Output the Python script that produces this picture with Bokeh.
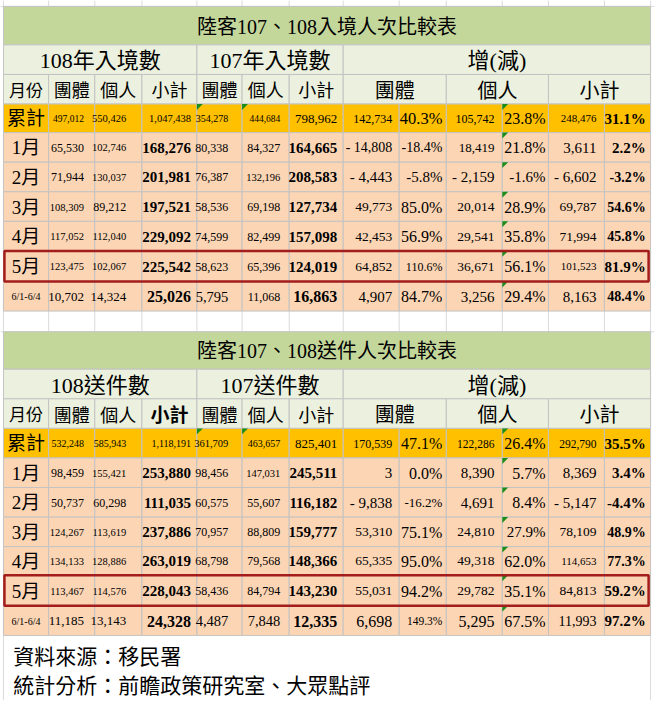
from bokeh.plotting import figure
from bokeh.models import ColumnDataSource, Range1d
from bokeh.core.properties import field, value
from bokeh.embed import file_html
from bokeh.resources import INLINE

# ---------------- data ----------------
months = ["累計", "1月", "2月", "3月", "4月", "5月", "6/1-6/4"]
col_heads = ["月份", "團體", "個人", "小計", "團體", "個人", "小計"]
diff_heads = ["團體", "個人", "小計"]

entry_title = "陸客107、108入境人次比較表"
entry_groups = ["108年入境數", "107年入境數", "增(減)"]
ent108_group = [497012, 65530, 71944, 108309, 117052, 123475, 10702]
ent108_indiv = [550426, 102746, 130037, 89212, 112040, 102067, 14324]
ent108_total = [1047438, 168276, 201981, 197521, 229092, 225542, 25026]
ent107_group = [354278, 80338, 76387, 58536, 74599, 58623, 5795]
ent107_indiv = [444684, 84327, 132196, 69198, 82499, 65396, 11068]
ent107_total = [798962, 164665, 208583, 127734, 157098, 124019, 16863]
ent_diff_group = [142734, -14808, -4443, 49773, 42453, 64852, 4907]
ent_diff_group_pct = [40.3, -18.4, -5.8, 85.0, 56.9, 110.6, 84.7]
ent_diff_indiv = [105742, 18419, -2159, 20014, 29541, 36671, 3256]
ent_diff_indiv_pct = [23.8, 21.8, -1.6, 28.9, 35.8, 56.1, 29.4]
ent_diff_total = [248476, 3611, -6602, 69787, 71994, 101523, 8163]
ent_diff_total_pct = [31.1, 2.2, -3.2, 54.6, 45.8, 81.9, 48.4]

send_title = "陸客107、108送件人次比較表"
send_groups = ["108送件數", "107送件數", "增(減)"]
sub108_group = [532248, 98459, 50737, 124267, 134133, 113467, 11185]
sub108_indiv = [585943, 155421, 60298, 113619, 128886, 114576, 13143]
sub108_total = [1118191, 253880, 111035, 237886, 263019, 228043, 24328]
sub107_group = [361709, 98456, 60575, 70957, 68798, 58436, 4487]
sub107_indiv = [463657, 147031, 55607, 88809, 79568, 84794, 7848]
sub107_total = [825401, 245511, 116182, 159777, 148366, 143230, 12335]
sub_diff_group = [170539, 3, -9838, 53310, 65335, 55031, 6698]
sub_diff_group_pct = [47.1, 0.0, -16.2, 75.1, 95.0, 94.2, 149.3]
sub_diff_indiv = [122286, 8390, 4691, 24810, 49318, 29782, 5295]
sub_diff_indiv_pct = [26.4, 5.7, 8.4, 27.9, 62.0, 35.1, 67.5]
sub_diff_total = [292790, 8369, -5147, 78109, 114653, 84813, 11993]
sub_diff_total_pct = [35.5, 3.4, -4.4, 48.9, 77.3, 59.2, 97.2]

footer_lines = ["資料來源：移民署", "統計分析：前瞻政策研究室、大眾點評"]

# ---------------- styles / layout ----------------
SERIF = "Liberation Serif, Noto Sans CJK TC"
CJK = "Noto Sans CJK TC"
C_TITLE = "#c4d79b"
C_HEAD = "#ebf1de"
C_SUM = "#ffc000"
C_ROW = "#fcd5b4"
C_LINE = "#c3c3c3"
C_GRID = "#dadada"
C_RED = "#a31d1d"
C_TRI = "#1c8c1c"

X = [6, 52, 99, 147, 203, 249, 297, 352, 409, 457, 514, 561, 618, 665]
PAD = [0, 11, 16, 6, 14, 9, 6, 7, 4, 8, 3, 8, 5]

TOP = dict(title=(9, 48), sub=(48, 78), head=(78, 108),
           rows=[108, 137, 167, 197, 227, 257, 288, 318])
BOT = dict(title=(339, 377), sub=(377, 407), head=(407, 437),
           rows=[437, 467, 497, 527, 557, 586, 617, 647])

# font sizes per cell (rows x columns c0..c12)
top_sizes = [
    [19, 9.5, 10.5, 10.5, 10, 9.5, 13, 12, 16.5, 12, 16, 11, 15],
    [19, 12, 10.5, 15, 12, 12, 15, 14, 14, 13, 16, 15, 15],
    [19, 12, 10.5, 15, 12, 10.5, 15, 15, 15, 15, 15, 15, 14],
    [19, 10.5, 12, 15, 12, 12, 15, 13.5, 16, 13.5, 16, 13.5, 14],
    [19, 10.5, 10.5, 15, 12, 12, 15, 13.5, 16, 13.5, 16, 13.5, 14],
    [19, 10.5, 10.5, 15, 12, 12, 15, 13.5, 12, 13.5, 16, 11, 15],
    [10, 13, 13, 16, 14.5, 12, 16, 15, 16, 15, 16, 15, 14],
]
bot_sizes = [
    [19, 10, 10, 10, 10.5, 10, 13, 12, 16, 11.5, 16, 11.5, 15],
    [19, 12, 10.5, 15, 12, 10.5, 15, 15, 16, 15, 16, 15, 15],
    [19, 12, 12, 15, 12, 12, 15, 15, 13, 15, 16, 15, 15],
    [19, 10.5, 10.5, 15, 12, 12, 15, 13.5, 16, 13.5, 15, 13.5, 14],
    [19, 10.5, 10.5, 15, 12, 12, 15, 13.5, 16, 13.5, 16, 11, 14],
    [19, 10.5, 10.5, 15, 12, 12, 15, 13.5, 16, 13.5, 16, 13.5, 15],
    [10, 13, 13, 16, 14.5, 14.5, 16, 16, 11.5, 16, 16, 14, 15],
]


def fmt_n(v):
    return f"{v:,}"


def fmt_d(v):
    return f"- {abs(v):,}" if v < 0 else f"{v:,}"


def fmt_p(v):
    return f"{v:.1f}%"


p = figure(width=654, height=700, x_range=Range1d(3, 669), y_range=Range1d(713, 3),
           output_backend="svg", toolbar_location=None, min_border=0,
           x_axis_location=None, y_axis_location=None)
p.xgrid.visible = False
p.ygrid.visible = False
p.outline_line_color = None
p.background_fill_color = "white"
p.border_fill_color = "white"

cells = dict(left=[], right=[], top=[], bottom=[], color=[])
texts = dict(x=[], y=[], text=[], size=[], font=[], style=[], align=[])
tris = dict(xs=[], ys=[])
grid = dict(xs=[], ys=[])


def cell(l, r, t, b, c):
    cells["left"].append(l); cells["right"].append(r)
    cells["top"].append(t); cells["bottom"].append(b); cells["color"].append(c)


def txt(x, y, s, size, font=SERIF, style="normal", align="center"):
    texts["x"].append(x); texts["y"].append(y); texts["text"].append(s)
    texts["size"].append(f"{size}px"); texts["font"].append(font)
    texts["style"].append(style); texts["align"].append(align)


def tri(l, t, s=6):
    tris["xs"].append([l, l + s, l]); tris["ys"].append([t, t, t + s])


def draw_table(L, title, groups, cols, sizes, bold_sub_head):
    t0, t1 = L["title"]
    cell(X[0], X[-1], t0, t1, C_TITLE)
    txt((X[0] + X[-1]) / 2, (t0 + t1) / 2 + 1, title, 20)
    s0, s1 = L["sub"]
    spans = [(0, 4), (4, 7), (7, 13)]
    for (a, b), g in zip(spans, groups):
        cell(X[a], X[b], s0, s1, C_HEAD)
        txt((X[a] + X[b]) / 2, (s0 + s1) / 2 + 1, g, 22)
    h0, h1 = L["head"]
    for i, h in enumerate(col_heads):
        cell(X[i], X[i + 1], h0, h1, C_HEAD)
        if i == 3 and bold_sub_head:
            txt((X[i] + X[i + 1]) / 2, (h0 + h1) / 2, h, 19, CJK, "bold")
        else:
            txt((X[i] + X[i + 1]) / 2, (h0 + h1) / 2, h, 17 if i == 0 else 18, CJK)
    for k, h in enumerate(diff_heads):
        a = 7 + 2 * k
        cell(X[a], X[a + 2], h0, h1, C_HEAD)
        txt((X[a] + X[a + 2]) / 2, (h0 + h1) / 2, h, 20, CJK)
    rows = L["rows"]
    for r in range(len(months)):
        y0, y1 = rows[r], rows[r + 1]
        ym = (y0 + y1) / 2 + 0.5
        color = C_SUM if r == 0 else C_ROW
        for c in range(13):
            cell(X[c], X[c + 1], y0, y1, color)
        txt((X[0] + X[1]) / 2, ym, months[r], sizes[r][0], SERIF)
        for c in range(1, 13):
            bold = (c in (3, 6) and r > 0) or c == 12
            txt(X[c + 1] - PAD[c], ym, cols[c - 1][r], sizes[r][c], SERIF,
                "bold" if bold else "normal", "right")
        tri(X[10], y0)
        if r == 0:
            tri(X[4], y0)
            tri(X[5], y0)
    return rows[5], rows[6]


top_cols = [
    [fmt_n(v) for v in ent108_group], [fmt_n(v) for v in ent108_indiv], [fmt_n(v) for v in ent108_total],
    [fmt_n(v) for v in ent107_group], [fmt_n(v) for v in ent107_indiv], [fmt_n(v) for v in ent107_total],
    [fmt_d(v) for v in ent_diff_group], [fmt_p(v) for v in ent_diff_group_pct],
    [fmt_d(v) for v in ent_diff_indiv], [fmt_p(v) for v in ent_diff_indiv_pct],
    [fmt_d(v) for v in ent_diff_total], [fmt_p(v) for v in ent_diff_total_pct],
]
bot_cols = [
    [fmt_n(v) for v in sub108_group], [fmt_n(v) for v in sub108_indiv], [fmt_n(v) for v in sub108_total],
    [fmt_n(v) for v in sub107_group], [fmt_n(v) for v in sub107_indiv], [fmt_n(v) for v in sub107_total],
    [fmt_d(v) for v in sub_diff_group], [fmt_p(v) for v in sub_diff_group_pct],
    [fmt_d(v) for v in sub_diff_indiv], [fmt_p(v) for v in sub_diff_indiv_pct],
    [fmt_d(v) for v in sub_diff_total], [fmt_p(v) for v in sub_diff_total_pct],
]

red1 = draw_table(TOP, entry_title, entry_groups, top_cols, top_sizes, False)
red2 = draw_table(BOT, send_title, send_groups, bot_cols, bot_sizes, True)

# spreadsheet gridlines in the blank areas
for xv in X:
    grid["xs"].append([xv, xv]); grid["ys"].append([TOP["rows"][-1], BOT["title"][0]])
    grid["xs"].append([xv, xv]); grid["ys"].append([3, TOP["title"][0]])
for xv in (X[0], X[-1]):
    grid["xs"].append([xv, xv]); grid["ys"].append([BOT["rows"][-1], 713])
grid["xs"].append([3, 669]); grid["ys"].append([TOP["title"][0], TOP["title"][0]])
grid["xs"].append([3, 669]); grid["ys"].append([BOT["title"][0], BOT["title"][0]])

p.multi_line(xs="xs", ys="ys", source=ColumnDataSource(grid), line_color=C_GRID, line_width=1)
p.quad(left="left", right="right", top="top", bottom="bottom", fill_color="color",
       line_color=C_LINE, line_width=1, source=ColumnDataSource(cells))
p.patches(xs="xs", ys="ys", source=ColumnDataSource(tris), fill_color=C_TRI, line_color=None)
for (a, b) in (red1, red2):
    p.quad(left=[X[0] + 1], right=[X[-1] - 2], top=[a], bottom=[b], fill_alpha=0,
           line_color=C_RED, line_width=2.5)

p.text(x="x", y="y", text="text", source=ColumnDataSource(texts),
       text_font=field("font"), text_font_size=field("size"), text_font_style=field("style"),
       text_align=field("align"), text_baseline="middle", text_color="#000000")

# footer
ft = dict(x=[16, 16], y=[667, 696], text=footer_lines)
p.text(x="x", y="y", text="text", source=ColumnDataSource(ft), text_font=value(CJK),
       text_font_size="21px", text_align="left", text_baseline="middle", text_color="#000000")

open("out.html", "w").write(file_html(p, INLINE))
